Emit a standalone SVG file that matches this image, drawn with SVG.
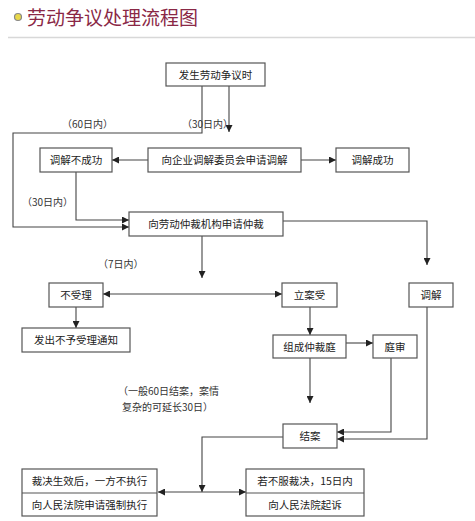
<svg xmlns="http://www.w3.org/2000/svg" width="475" height="521" viewBox="0 0 475 521">
<defs>
<marker id="ah" viewBox="0 0 10 10" refX="10" refY="5" markerWidth="7" markerHeight="7" markerUnits="userSpaceOnUse" orient="auto">
<path d="M0,0 L10,5 L0,10 z" fill="#222"/>
</marker>
<style>
.box{fill:#fff;stroke:#555;stroke-width:1.2}
.t{font-family:"Noto Sans CJK SC","Noto Sans",sans-serif;font-size:10.5px;fill:#222;text-anchor:middle}
.lbl{font-family:"Noto Sans CJK SC","Noto Sans",sans-serif;font-size:10px;fill:#333}
.ln{fill:none;stroke:#444;stroke-width:1.1}
.ar{marker-end:url(#ah)}
</style>
</defs>
<rect width="475" height="521" fill="#fff"/>
<g id="title">
<circle cx="18" cy="17" r="3.5" fill="#e8d84a" stroke="#888" stroke-width="1.2"/>
<text x="27" y="25" style="font-family:'Noto Sans CJK SC',sans-serif;font-size:19px;fill:#8a2846">劳动争议处理流程图</text>
<line x1="8" y1="37.5" x2="475" y2="37.5" stroke="#d8d8d8" stroke-width="1.5"/>
</g>
<g id="connectors">
<path class="ln ar" d="M202,86 V133 H13 V227 H129"/>
<path class="ln ar" d="M229,86 V132"/>
<path class="ln ar" d="M148,160 H112"/>
<path class="ln ar" d="M301,160 H336"/>
<path class="ln ar" d="M76,172 V220 H129"/>
<path class="ln ar" d="M283,221 H427 V265"/>
<path class="ln ar" d="M202,236 V278"/>
<path class="ln ar" d="M202,294 H103"/>
<path class="ln ar" d="M202,294 H282"/>
<path class="ln ar" d="M76,307 V328"/>
<path class="ln ar" d="M310,307 V335"/>
<path class="ln ar" d="M346,343 H373"/>
<path class="ln ar" d="M310,358 V403"/>
<path class="ln ar" d="M391,358 V432 H337"/>
<path class="ln ar" d="M427,307 V439 H337"/>
<path class="ln ar" d="M283,437 H202 V492"/>
<path class="ln ar" d="M202,492 H158"/>
<path class="ln ar" d="M202,492 H246"/>
</g>
<g id="labels">
<text class="lbl" x="62" y="128">（60日内）</text>
<text class="lbl" x="182" y="128">（30日内）</text>
<text class="lbl" x="22" y="206">（30日内）</text>
<text class="lbl" x="98" y="268">（7日内）</text>
<text class="lbl" x="118" y="395">（一般60日结案，案情</text>
<text class="lbl" x="122" y="411">复杂的可延长30日）</text>
</g>
<g id="n1"><rect class="box" x="166" y="63" width="99" height="23"/><text class="t" x="215.5" y="78.5">发生劳动争议时</text></g>
<g id="n2"><rect class="box" x="148" y="148" width="153" height="24"/><text class="t" x="224.5" y="164">向企业调解委员会申请调解</text></g>
<g id="n3"><rect class="box" x="40" y="148" width="72" height="24"/><text class="t" x="76" y="164">调解不成功</text></g>
<g id="n4"><rect class="box" x="336" y="148" width="73" height="24"/><text class="t" x="372.5" y="164">调解成功</text></g>
<g id="n5"><rect class="box" x="129" y="212" width="154" height="24"/><text class="t" x="206" y="228">向劳动仲裁机构申请仲裁</text></g>
<g id="n6"><rect class="box" x="49" y="283" width="54" height="24"/><text class="t" x="76" y="299">不受理</text></g>
<g id="n7"><rect class="box" x="22" y="328" width="108" height="24"/><text class="t" x="76" y="344">发出不予受理通知</text></g>
<g id="n8"><rect class="box" x="282" y="283" width="55" height="24"/><text class="t" x="309.5" y="299">立案受</text></g>
<g id="n9"><rect class="box" x="409" y="283" width="44" height="24"/><text class="t" x="431" y="299">调解</text></g>
<g id="n10"><rect class="box" x="273" y="335" width="73" height="23"/><text class="t" x="309.5" y="350.5">组成仲裁庭</text></g>
<g id="n11"><rect class="box" x="373" y="335" width="44" height="23"/><text class="t" x="395" y="350.5">庭审</text></g>
<g id="n12"><rect class="box" x="283" y="424" width="54" height="24"/><text class="t" x="310" y="440">结案</text></g>
<g id="n13"><rect class="box" x="22" y="469" width="135" height="47"/><line x1="22" y1="493" x2="157" y2="493" stroke="#555" stroke-width="1.2"/><text class="t" x="89.5" y="485">裁决生效后，一方不执行</text><text class="t" x="89.5" y="509">向人民法院申请强制执行</text></g>
<g id="n14"><rect class="box" x="246" y="469" width="118" height="47"/><line x1="246" y1="493" x2="364" y2="493" stroke="#555" stroke-width="1.2"/><text class="t" x="305" y="485">若不服裁决，15日内</text><text class="t" x="305" y="509">向人民法院起诉</text></g>
</svg>
